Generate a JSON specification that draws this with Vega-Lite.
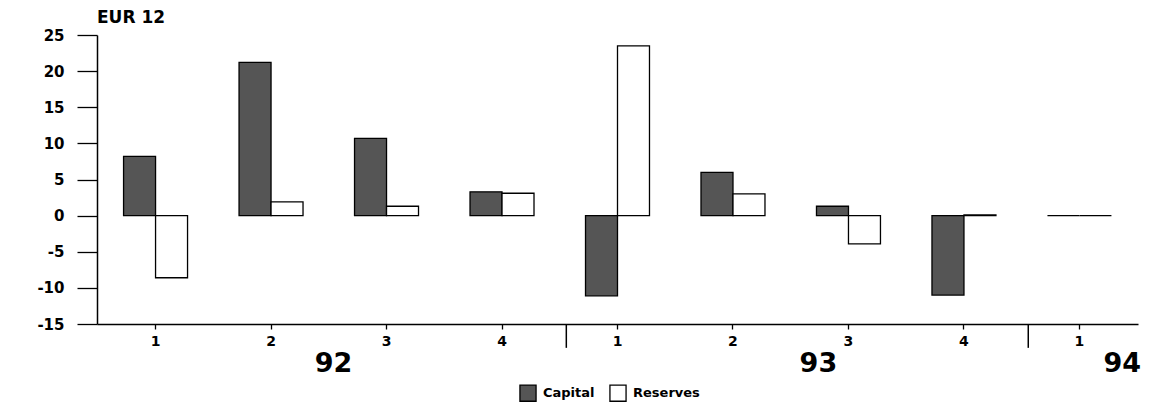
{
  "$schema": "https://vega.github.io/schema/vega-lite/v6.json",
  "width": 1041,
  "height": 289,
  "autosize": "none",
  "padding": {"left": 97, "top": 35, "right": 21, "bottom": 92},
  "background": "white",
  "config": {
    "view": {"stroke": null},
    "font": "DejaVu Sans",
    "axisY": {"labelOverlap": false, "labelFont": "DejaVu Sans", "labelFontWeight": "bold", "labelFontSize": 15, "labelColor": "black", "labelPadding": 13, "tickSize": 20, "tickColor": "black", "tickWidth": 1.3, "domainColor": "black", "domainWidth": 1.5, "grid": false},
    "axisX": {"labelAngle": 0, "labelFont": "DejaVu Sans", "labelFontWeight": "bold", "labelFontSize": 14, "labelColor": "black", "labelPadding": 5, "tickSize": 5, "tickColor": "black", "tickWidth": 1.3, "domainColor": "black", "domainWidth": 1.5, "grid": false}
  },
  "title": {"text": "EUR 12", "anchor": "start", "frame": "group", "fontSize": 17, "font": "DejaVu Sans", "fontWeight": "bold", "offset": 1, "color": "black"},
  "datasets": {
    "main": [
      {"period": "1992-1", "series": "Capital", "value": 8.2},
      {"period": "1992-1", "series": "Reserves", "value": -8.6},
      {"period": "1992-2", "series": "Capital", "value": 21.2},
      {"period": "1992-2", "series": "Reserves", "value": 1.9},
      {"period": "1992-3", "series": "Capital", "value": 10.7},
      {"period": "1992-3", "series": "Reserves", "value": 1.3},
      {"period": "1992-4", "series": "Capital", "value": 3.3},
      {"period": "1992-4", "series": "Reserves", "value": 3.1},
      {"period": "1993-1", "series": "Capital", "value": -11.1},
      {"period": "1993-1", "series": "Reserves", "value": 23.5},
      {"period": "1993-2", "series": "Capital", "value": 6.0},
      {"period": "1993-2", "series": "Reserves", "value": 3.0},
      {"period": "1993-3", "series": "Capital", "value": 1.3},
      {"period": "1993-3", "series": "Reserves", "value": -3.9},
      {"period": "1993-4", "series": "Capital", "value": -11.0},
      {"period": "1993-4", "series": "Reserves", "value": 0.1},
      {"period": "1994-1", "series": "Capital", "value": 0},
      {"period": "1994-1", "series": "Reserves", "value": 0}
    ],
    "separators": [{"period": "1993-1"}, {"period": "1994-1"}],
    "y92": [{"period": "1992-3", "year": "92"}],
    "y93": [{"period": "1993-3", "year": "93"}],
    "y94": [{"period": "1994-1", "year": "94"}]
  },
  "layer": [
    {
      "data": {"name": "main"},
      "mark": {"type": "bar", "stroke": "black", "strokeWidth": 1.3},
      "encoding": {
        "x": {
          "field": "period", "type": "nominal", "title": null,
          "scale": {"domain": ["1992-1","1992-2","1992-3","1992-4","1993-1","1993-2","1993-3","1993-4","1994-1"], "paddingInner": 0.446, "paddingOuter": 0.23},
          "axis": {"labelExpr": "split(datum.value, '-')[1]"}
        },
        "xOffset": {"field": "series", "type": "nominal", "sort": ["Capital", "Reserves"], "scale": {"paddingInner": 0, "paddingOuter": 0}},
        "y": {
          "field": "value", "type": "quantitative", "title": null,
          "scale": {"domain": [-15, 25], "nice": false, "zero": false},
          "axis": {"values": [-15, -10, -5, 0, 5, 10, 15, 20, 25], "labelExpr": "datum.value < 0 ? '-' + abs(datum.value) : '' + datum.value"}
        },
        "fill": {
          "field": "series", "type": "nominal", "title": null,
          "scale": {"domain": ["Capital", "Reserves"], "range": ["#555555", "#ffffff"]},
          "legend": {"orient": "none", "legendX": 422, "legendY": 349, "direction": "horizontal", "symbolType": "square", "symbolSize": 260, "symbolStrokeColor": "black", "symbolStrokeWidth": 1.3, "labelFont": "DejaVu Sans", "labelFontWeight": "bold", "labelFontSize": 13, "labelColor": "black", "columnPadding": 12, "labelOffset": 6}
        }
      }
    },
    {
      "mark": {"type": "rule", "color": "black", "strokeWidth": 1.5},
      "encoding": {"y": {"datum": 0, "type": "quantitative", "title": null, "axis": {"values": [-15, -10, -5, 0, 5, 10, 15, 20, 25], "labelExpr": "datum.value < 0 ? '-' + abs(datum.value) : '' + datum.value"}}}
    },
    {
      "data": {"name": "separators"},
      "mark": {"type": "rule", "color": "black", "strokeWidth": 1.5},
      "encoding": {
        "x": {"field": "period", "type": "nominal", "bandPosition": -0.3, "title": null, "axis": {"labelExpr": "split(datum.value, '-')[1]"}},
        "y": {"datum": -15, "type": "quantitative", "title": null, "axis": {"values": [-15, -10, -5, 0, 5, 10, 15, 20, 25], "labelExpr": "datum.value < 0 ? '-' + abs(datum.value) : '' + datum.value"}},
        "y2": {"datum": -18.3}
      }
    },
    {
      "data": {"name": "y92"},
      "mark": {"type": "text", "font": "DejaVu Sans", "fontWeight": "bold", "fontSize": 27, "color": "black", "baseline": "middle", "align": "center", "dy": 40},
      "encoding": {
        "x": {"field": "period", "type": "nominal", "bandPosition": -0.33, "title": null, "axis": {"labelExpr": "split(datum.value, '-')[1]"}},
        "y": {"datum": -15, "type": "quantitative", "title": null, "axis": {"values": [-15, -10, -5, 0, 5, 10, 15, 20, 25], "labelExpr": "datum.value < 0 ? '-' + abs(datum.value) : '' + datum.value"}},
        "text": {"field": "year"}
      }
    },
    {
      "data": {"name": "y93"},
      "mark": {"type": "text", "font": "DejaVu Sans", "fontWeight": "bold", "fontSize": 27, "color": "black", "baseline": "middle", "align": "center", "dy": 40},
      "encoding": {
        "x": {"field": "period", "type": "nominal", "bandPosition": 0.03, "title": null, "axis": {"labelExpr": "split(datum.value, '-')[1]"}},
        "y": {"datum": -15, "type": "quantitative", "title": null, "axis": {"values": [-15, -10, -5, 0, 5, 10, 15, 20, 25], "labelExpr": "datum.value < 0 ? '-' + abs(datum.value) : '' + datum.value"}},
        "text": {"field": "year"}
      }
    },
    {
      "data": {"name": "y94"},
      "mark": {"type": "text", "font": "DejaVu Sans", "fontWeight": "bold", "fontSize": 27, "color": "black", "baseline": "middle", "align": "center", "dy": 40},
      "encoding": {
        "x": {"field": "period", "type": "nominal", "bandPosition": 1.17, "title": null, "axis": {"labelExpr": "split(datum.value, '-')[1]"}},
        "y": {"datum": -15, "type": "quantitative", "title": null, "axis": {"values": [-15, -10, -5, 0, 5, 10, 15, 20, 25], "labelExpr": "datum.value < 0 ? '-' + abs(datum.value) : '' + datum.value"}},
        "text": {"field": "year"}
      }
    }
  ]
}
